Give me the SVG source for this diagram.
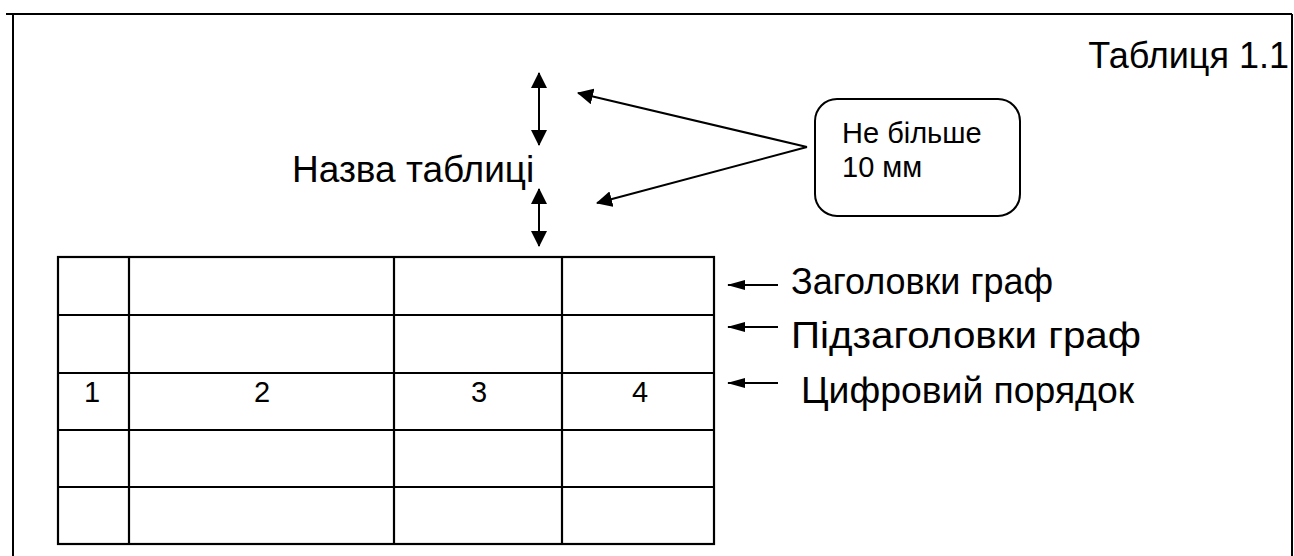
<svg xmlns="http://www.w3.org/2000/svg" width="1294" height="556" viewBox="0 0 1294 556">
<defs>
<style>
.t{font-family:"Liberation Sans",Arial,sans-serif;fill:#000}
.big{font-size:36px}
.ln{stroke:#000;stroke-width:2;fill:none}
.tb{stroke:#000;stroke-width:2.2;fill:none}
</style>
<marker id="ah" viewBox="0 0 16 16" refX="15" refY="8" markerWidth="16" markerHeight="16" markerUnits="userSpaceOnUse" orient="auto-start-reverse">
<path d="M0,0 L16,8 L0,16 z" fill="#000"/>
</marker>
<marker id="as" viewBox="0 0 18 10" refX="17" refY="5" markerWidth="18" markerHeight="10" markerUnits="userSpaceOnUse" orient="auto">
<path d="M0,0 L18,5 L0,10 z" fill="#000"/>
</marker>
</defs>
<g id="frame">
<path class="ln" d="M6,14 H1292 M13,14 V556 M1292,14 V556"/>
</g>
<g id="title"><text class="t big" x="1289" y="68" text-anchor="end">Таблиця 1.1</text></g>
<g id="name"><text class="t" x="292" y="182" font-size="37">Назва таблиці</text></g>
<g id="note">
<rect x="815" y="99" width="205" height="117" rx="22" ry="22" fill="#fff" stroke="#000" stroke-width="2"/>
<text class="t" x="842" y="143" font-size="29">Не більше</text>
<text class="t" x="842" y="177" font-size="29">10 мм</text>
</g>
<g id="table">
<rect class="tb" x="58" y="257" width="656" height="287"/>
<path class="tb" d="M58,315 H714 M58,373 H714 M58,430 H714 M58,487 H714 M129,257 V544 M394,257 V544 M562,257 V544"/>
<g class="t" font-size="29" text-anchor="middle">
<text x="92" y="402">1</text>
<text x="262" y="402">2</text>
<text x="479" y="402">3</text>
<text x="640" y="402">4</text>
</g>
</g>
<g id="labels">
<text class="t big" x="791" y="294" textLength="262" lengthAdjust="spacingAndGlyphs">Заголовки граф</text>
<text class="t big" x="791" y="348" textLength="350" lengthAdjust="spacingAndGlyphs">Підзаголовки граф</text>
<text class="t big" x="801" y="403" textLength="333" lengthAdjust="spacingAndGlyphs">Цифровий порядок</text>
</g>
<g id="connectors">
<line class="ln" x1="539" y1="73" x2="539" y2="145" marker-start="url(#ah)" marker-end="url(#ah)"/>
<line class="ln" x1="539" y1="189" x2="539" y2="246" marker-start="url(#ah)" marker-end="url(#ah)"/>
<line class="ln" x1="807" y1="147" x2="578" y2="93" marker-end="url(#ah)"/>
<line class="ln" x1="807" y1="147" x2="597" y2="203" marker-end="url(#ah)"/>
<line class="ln" x1="778" y1="285" x2="728" y2="285" marker-end="url(#as)"/>
<line class="ln" x1="778" y1="327" x2="728" y2="327" marker-end="url(#as)"/>
<line class="ln" x1="778" y1="383" x2="728" y2="383" marker-end="url(#as)"/>
</g>
</svg>
